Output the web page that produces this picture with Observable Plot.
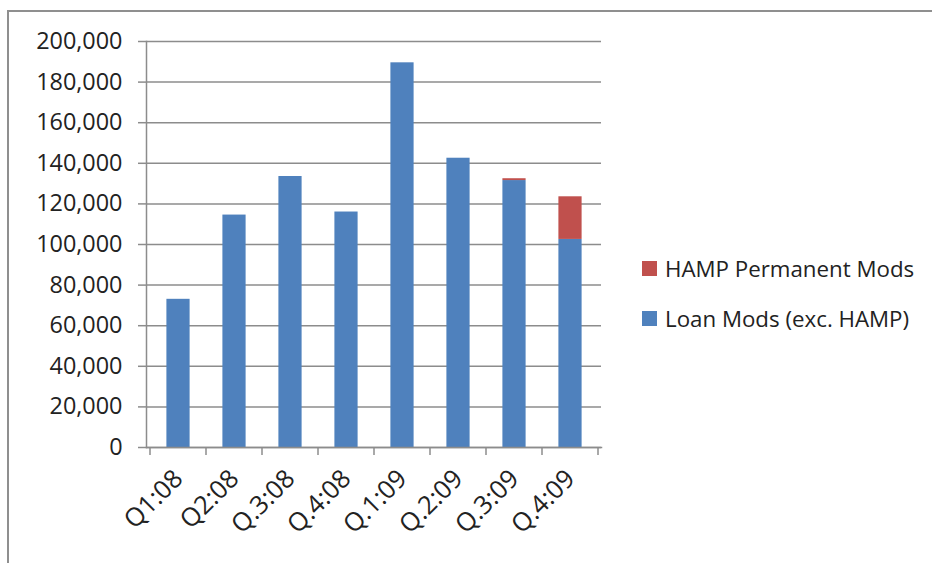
<!DOCTYPE html>
<html>
<head>
<meta charset="utf-8">
<script src="https://cdn.jsdelivr.net/npm/d3@7"></script>
<script src="https://cdn.jsdelivr.net/npm/@observablehq/plot@0.6"></script>
<style>
  html, body { margin: 0; padding: 0; background: #fff; overflow: hidden; }
  #wrap { position: relative; width: 932px; height: 563px; }
  #frame { position: absolute; left: 7px; top: 10px; width: 1000px; height: 1000px;
           border-top: 2px solid #8f8f8f; border-left: 2px solid #8f8f8f; box-sizing: border-box; }
  #chart { position: absolute; left: 0; top: 0; }
  #legend { position: absolute; left: 642px; top: 252px; font-family: "Open Sans", sans-serif;
            font-size: 22.3px; color: #222; }
  .item { display: flex; align-items: center; height: 32px; margin-bottom: 18px; white-space: nowrap; }
  .sw { width: 15px; height: 15px; margin-right: 8px; flex: none; }
</style>
</head>
<body>
<div id="wrap">
  <div id="frame"></div>
  <div id="chart"></div>
  <div id="legend"></div>
</div>
<script>
const quarters = ["Q1:08", "Q2:08", "Q.3:08", "Q.4:08", "Q.1:09", "Q.2:09", "Q.3:09", "Q.4:09"];
const loanMods = [73000, 114500, 133500, 116000, 189500, 142500, 131500, 102500];
const hampMods = [0, 0, 0, 0, 0, 0, 900, 21000];
const seriesNames = ["Loan Mods (exc. HAMP)", "HAMP Permanent Mods"];
const seriesColors = ["#4F81BD", "#C0504D"];
const yTicks = [0, 20000, 40000, 60000, 80000, 100000, 120000, 140000, 160000, 180000, 200000];
const legendOrder = ["HAMP Permanent Mods", "Loan Mods (exc. HAMP)"];

const rows = [];
quarters.forEach((q, i) => {
  rows.push({quarter: q, series: seriesNames[0], value: loanMods[i]});
  rows.push({quarter: q, series: seriesNames[1], value: hampMods[i]});
});

const gridColor = "#8c8c8c";

// tick marks at the category band boundaries, drawn from the x scale
function bandBoundaryTicks() {
  return (index, scales, values, dimensions) => {
    const x = scales.x;
    const bw = typeof x.bandwidth === "function" ? x.bandwidth() : x.bandwidth;
    const y0 = dimensions.height - dimensions.marginBottom;
    const edges = quarters.map(q => x(q)).concat([x(quarters[quarters.length - 1]) + bw]);
    const g = d3.create("svg:g").attr("stroke", gridColor).attr("stroke-width", 1.5);
    for (const e of edges) {
      g.append("line").attr("x1", e).attr("x2", e).attr("y1", y0).attr("y2", y0 + 8);
    }
    return g.node();
  };
}

const chart = Plot.plot({
  width: 932,
  height: 563,
  marginLeft: 146,
  marginRight: 331,
  marginTop: 41,
  marginBottom: 116,
  style: {fontFamily: "Open Sans, sans-serif", fontSize: "23.4px", color: "#222", background: "transparent", overflow: "visible"},
  x: {domain: quarters, padding: 0},
  y: {domain: [0, 200000]},
  color: {domain: seriesNames, range: seriesColors},
  marks: [
    Plot.gridY(yTicks, {stroke: gridColor, strokeOpacity: 1, strokeWidth: 1.5}),
    Plot.axisY(yTicks, {tickSize: 8, tickPadding: 16, tickFormat: d3.format(","), stroke: gridColor, strokeWidth: 1.5, fill: "#222", label: null, fontSize: 23.4}),
    Plot.barY(rows, Plot.stackY({x: "quarter", y: "value", fill: "series", insetLeft: 16.4, insetRight: 16.4})),
    Plot.frame({anchor: "left", stroke: gridColor, strokeWidth: 1.5}),
    Plot.frame({anchor: "bottom", stroke: gridColor, strokeWidth: 1.5}),
    bandBoundaryTicks(),
    Plot.axisX({tickSize: 0, tickPadding: 27, tickRotate: -45, fill: "#222", label: null, fontSize: 25.5})
  ]
});
document.getElementById("chart").appendChild(chart);

const legend = document.getElementById("legend");
for (const name of legendOrder) {
  const item = document.createElement("div");
  item.className = "item";
  const sw = document.createElement("span");
  sw.className = "sw";
  sw.style.background = seriesColors[seriesNames.indexOf(name)];
  const t = document.createElement("span");
  t.textContent = name;
  item.appendChild(sw); item.appendChild(t);
  legend.appendChild(item);
}
</script>
</body>
</html>
